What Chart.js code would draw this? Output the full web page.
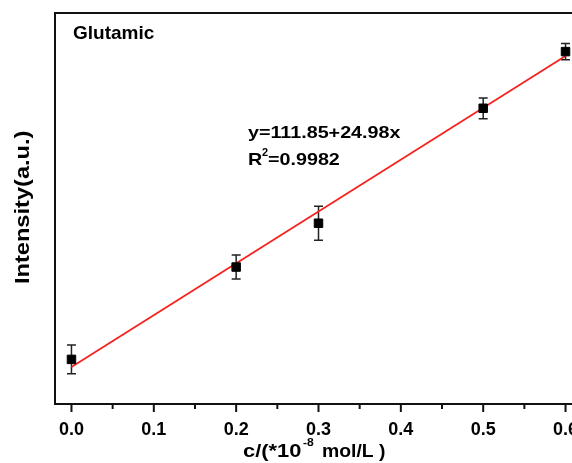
<!DOCTYPE html>
<html>
<head>
<meta charset="utf-8">
<script src="https://cdn.jsdelivr.net/npm/chart.js@4.4.1/dist/chart.umd.min.js"></script>
<style>
  html, body { margin: 0; padding: 0; background: #fff; overflow: hidden; }
  #wrap { width: 600px; height: 463px; }
</style>
</head>
<body>
<div id="wrap"><canvas id="grafico" width="600" height="463"></canvas></div>
<script>
const concentrations = [0.0, 0.2, 0.3, 0.5, 0.6];
const intensities = [112.22, 116.67, 118.78, 124.32, 127.05];
const errors = [0.69, 0.58, 0.82, 0.50, 0.39];

const fitX = [0.0, 0.6];
const fitY = [111.85, 126.84];

const xTickValues = [0, 0.05, 0.1, 0.15, 0.2, 0.25, 0.3, 0.35, 0.4, 0.45, 0.5, 0.55, 0.6];
const xTickLabels = ['0.0', '', '0.1', '', '0.2', '', '0.3', '', '0.4', '', '0.5', '', '0.6'];

const FONT = "'Liberation Sans', Arial, sans-serif";

// texto con estiramiento horizontal
function texto(ctx, str, x, y, size, sx, rot) {
    ctx.save();
    ctx.translate(x, y);
    if (rot) ctx.rotate(rot);
    ctx.scale(sx, 1);
    ctx.font = "bold " + size + "px " + FONT;
    ctx.fillStyle = '#000';
    ctx.textBaseline = 'alphabetic';
    ctx.textAlign = 'left';
    ctx.fillText(str, 0, 0);
    ctx.restore();
}

const extras = {
    id: 'extras',
    beforeDatasetsDraw(chart) {
        const ctx = chart.ctx;
        const xs = chart.scales.x, ys = chart.scales.y;
        ctx.save();
        ctx.strokeStyle = '#222';
        ctx.lineWidth = 1.5;
        concentrations.forEach((c, i) => {
            const px = xs.getPixelForValue(c);
            const top = ys.getPixelForValue(intensities[i] + errors[i]);
            const bot = ys.getPixelForValue(intensities[i] - errors[i]);
            ctx.beginPath();
            ctx.moveTo(px, top); ctx.lineTo(px, bot);
            ctx.moveTo(px - 4.5, top); ctx.lineTo(px + 4.5, top);
            ctx.moveTo(px - 4.5, bot); ctx.lineTo(px + 4.5, bot);
            ctx.stroke();
        });
        ctx.restore();
    },
    afterDraw(chart) {
        const ctx = chart.ctx;
        const a = chart.chartArea;
        const xs = chart.scales.x;
        ctx.save();
        ctx.strokeStyle = '#111';
        ctx.lineWidth = 2;
        ctx.strokeRect(a.left, a.top, a.right - a.left, a.bottom - a.top);
        // marcas del eje x
        xTickValues.forEach((v, i) => {
            const px = xs.getPixelForValue(v);
            const len = xTickLabels[i] ? 8 : 5;
            ctx.beginPath();
            ctx.moveTo(px, a.bottom);
            ctx.lineTo(px, a.bottom + len);
            ctx.stroke();
        });
        ctx.restore();

        texto(ctx, 'Glutamic', 73, 39, 19, 1.0);
        texto(ctx, 'y=111.85+24.98x', 248, 138, 17, 1.16);
        texto(ctx, 'R', 248, 165, 17, 1.16);
        texto(ctx, '2', 262, 156, 10, 1.1);
        texto(ctx, '=0.9982', 268, 165, 17, 1.16);

        texto(ctx, 'c/(*10', 243, 457, 19, 1.15);
        texto(ctx, '-8', 303, 446, 11, 1.1);
        texto(ctx, 'mol/L )', 322, 457, 19, 1.02);

        texto(ctx, 'Intensity(a.u.)', 29, 284, 20, 1.18, -Math.PI / 2);
    }
};

const ctx = document.getElementById('grafico').getContext('2d');
new Chart(ctx, {
    type: 'scatter',
    data: {
        datasets: [{
            label: 'Glutamic',
            data: concentrations.map((c, i) => ({ x: c, y: intensities[i] })),
            pointStyle: 'rect',
            pointRadius: 6,
            backgroundColor: '#000',
            borderColor: '#000',
            borderWidth: 1
        }, {
            label: 'Ajuste',
            data: fitX.map((c, i) => ({ x: c, y: fitY[i] })),
            showLine: true,
            pointRadius: 0,
            borderColor: '#f5221e',
            borderWidth: 1.8,
            fill: false
        }]
    },
    options: {
        responsive: false,
        animation: false,
        layout: { padding: { left: 0, top: 13, right: 18, bottom: 0 } },
        plugins: {
            legend: { display: false },
            tooltip: { enabled: false }
        },
        scales: {
            x: {
                type: 'linear',
                min: -0.02,
                max: 0.62,
                afterBuildTicks: s => { s.ticks = xTickValues.map(v => ({ value: v })); },
                afterFit: s => { s.height = 59; },
                grid: { display: false },
                border: { display: false },
                ticks: {
                    autoSkip: false,
                    maxRotation: 0,
                    padding: 7,
                    color: '#000',
                    font: { family: FONT, size: 18, weight: 'bold' },
                    callback: (v, i) => xTickLabels[i]
                }
            },
            y: {
                type: 'linear',
                min: 110.07,
                max: 128.91,
                afterFit: s => { s.width = 55; },
                grid: { display: false },
                border: { display: false },
                ticks: { display: false }
            }
        }
    },
    plugins: [extras]
});
</script>
</body>
</html>
